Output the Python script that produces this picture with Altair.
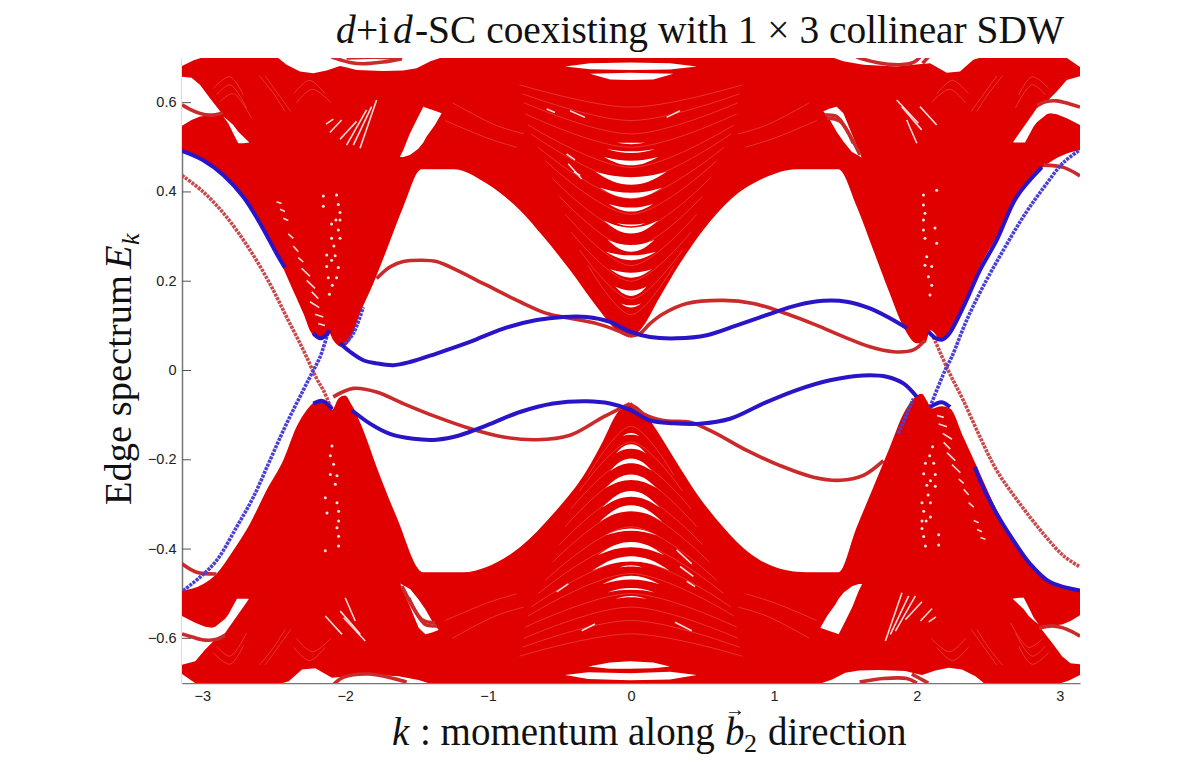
import altair as alt
import pandas as pd

W, H = 898, 625
PI = 3.1416
BULK = "#e00000"
XS = alt.Scale(domain=[-PI, PI], nice=False, zero=False)
YS = alt.Scale(domain=[-0.7, 0.7], nice=False, zero=False)

x_ticks = [-3, -2, -1, 0, 1, 2, 3]
y_ticks = [-0.6, -0.4, -0.2, 0, 0.2, 0.4, 0.6]

# --- bulk envelope bordering the gap, upper band ---
up_k = [-3.1416,-2.99,-2.853,-2.713,-2.596,-2.48,-2.386,-2.293,-2.234,-2.176,-2.118,-2.083,-2.024,-1.966,-1.896,-1.803,-1.71,-1.593,-1.465,-1.243,-1.01,-.777,-.614,-.427,-.24,-.1,-.007,.063,.203,.343,.506,.693,.93,1.16,1.45,1.58,1.695,1.81,1.906,2.0,2.057,2.095,2.175,2.23,2.325,2.44,2.56,2.70,2.885,3.025,3.1416]
up_E = [.492,.471,.438,.389,.330,.262,.195,.128,.083,.072,.087,.068,.053,.068,.128,.195,.27,.367,.451,.451,.419,.359,.30,.225,.143,.09,.075,.09,.165,.24,.315,.382,.431,.451,.451,.367,.27,.173,.098,.061,.061,.09,.068,.083,.142,.232,.30,.389,.456,.483,.494]
# --- lower band ---
lo_k = [-3.1416,-2.993,-2.9,-2.783,-2.666,-2.55,-2.433,-2.34,-2.27,-2.2,-2.13,-2.09,-2.048,-2.001,-1.953,-1.873,-1.78,-1.64,-1.453,-1.173,-1.01,-.777,-.544,-.31,-.193,-.1,-.007,.086,.18,.296,.46,.646,.833,1.043,1.23,1.451,1.579,1.696,1.812,1.906,1.976,2.034,2.069,2.104,2.174,2.232,2.325,2.442,2.559,2.676,2.792,2.932,3.1416]
lo_E = [-.493,-.478,-.455,-.403,-.343,-.268,-.201,-.126,-.089,-.07,-.074,-.088,-.063,-.056,-.078,-.134,-.216,-.328,-.452,-.452,-.44,-.396,-.321,-.224,-.156,-.097,-.074,-.093,-.134,-.194,-.276,-.351,-.41,-.444,-.452,-.452,-.351,-.261,-.171,-.097,-.063,-.052,-.067,-.085,-.08,-.085,-.149,-.231,-.313,-.381,-.433,-.474,-.493]

# --- white openings inside the bands: (k, upper E, lower E) ---
gaps = [
 ([-3.1416,-3.06,-2.98],[.71,.71,.71],[.682,.695,.703]),
 ([-3.1416,-3.075,-3.016,-2.946,-2.864],[.658,.656,.64,.61,.576],[.548,.561,.569,.572,.575]),
 ([-2.853,-2.818,-2.783,-2.748,-2.713,-2.67],[.569,.56,.55,.535,.524,.511],[.569,.554,.531,.509,.509,.511]),
 ([-2.48,-2.41,-2.316,-2.223,-2.13,-2.036,-1.98,-1.92,-1.735,-1.595,-1.5,-1.407,-1.337],[.71]*13,[.703,.685,.67,.666,.672,.682,.678,.673,.671,.672,.677,.692,.70]),
 ([-1.617,-1.593,-1.547,-1.488,-1.453,-1.43,-1.372,-1.325],[.478,.494,.531,.569,.591,.588,.582,.576],[.478,.478,.483,.497,.511,.524,.55,.576]),
 ([-.462,-.287,-.007,.273,.46],[.681,.688,.69,.688,.681],[.681,.675,.673,.674,.681]),
 ([-.287,-.147,-.007,.156,.296],[.665,.666,.667,.666,.665],[.665,.652,.651,.652,.665]),
 ([1.346,1.392,1.439,1.486,1.544,1.614],[.581,.587,.591,.576,.531,.477],[.581,.561,.535,.513,.49,.477]),
 ([1.392,1.486,1.626,1.859,1.976,2.092,2.209,2.302,2.395,2.465],[.71]*10,[.703,.693,.685,.681,.685,.688,.667,.670,.696,.703]),
 ([2.676,2.757,2.816,2.84,2.909,2.932,2.979,3.049,3.1416],[.513,.55,.577,.588,.602,.61,.625,.651,.659],[.511,.511,.546,.556,.574,.576,.574,.565,.55]),
 ([3.05,3.1416],[.71,.71],[.70,.68]),
 # lower half
 ([-3.1416,-3.05],[-.68,-.70],[-.71,-.71]),
 ([-3.1416,-3.049,-2.979,-2.932,-2.909,-2.84,-2.816,-2.757,-2.676],[-.55,-.565,-.574,-.576,-.574,-.556,-.546,-.511,-.511],[-.659,-.651,-.625,-.61,-.602,-.588,-.577,-.55,-.513]),
 ([-2.465,-2.395,-2.302,-2.209,-2.092,-1.976,-1.859,-1.626,-1.486,-1.392],[-.703,-.696,-.67,-.667,-.688,-.685,-.681,-.685,-.693,-.703],[-.71]*10),
 ([-1.614,-1.544,-1.486,-1.439,-1.392,-1.346],[-.477,-.49,-.513,-.535,-.561,-.581],[-.477,-.531,-.576,-.591,-.587,-.581]),
 ([-.298,-.147,-.007,.156,.273],[-.663,-.654,-.651,-.654,-.663],[-.663,-.668,-.668,-.667,-.663]),
 ([-.462,-.3,-.007,.273,.46],[-.682,-.676,-.678,-.675,-.682],[-.682,-.691,-.694,-.692,-.682]),
 ([1.325,1.372,1.43,1.453,1.488,1.547,1.593,1.617],[-.576,-.55,-.524,-.511,-.497,-.483,-.478,-.478],[-.576,-.582,-.588,-.591,-.569,-.531,-.494,-.478]),
 ([1.337,1.407,1.5,1.595,1.735,1.92,1.98,2.036,2.13,2.223,2.316,2.41,2.48],[-.70,-.692,-.677,-.672,-.671,-.673,-.678,-.682,-.672,-.666,-.67,-.685,-.703],[-.71]*13),
 ([2.67,2.713,2.748,2.783,2.818,2.853],[-.511,-.509,-.509,-.531,-.554,-.569],[-.511,-.524,-.535,-.55,-.56,-.569]),
 ([2.864,2.946,3.016,3.075,3.1416],[-.575,-.572,-.569,-.561,-.548],[-.576,-.61,-.64,-.656,-.658]),
 ([2.98,3.06,3.1416],[-.71,-.71,-.71],[-.703,-.695,-.682]),
]

# --- crescent openings around k = 0: half width, E at tips, E at mid top, E at mid bottom ---
crescents = [
 (.07,.150,.146,.141),(.11,.188,.179,.167),(.145,.227,.219,.208),(.175,.266,.258,.247),
 (.165,.293,.281,.266),(.10,.330,.327,.323),(.19,.336,.32,.307),(.155,.373,.365,.356),
 (.22,.41,.398,.386),(.25,.445,.433,.416),(.19,.478,.47,.46),(.17,.496,.491,.487),(.10,.511,.510,.507),
 (.058,-.147,-.144,-.140),(.105,-.186,-.175,-.165),(.146,-.225,-.208,-.197),(.178,-.263,-.245,-.233),
 (.2,-.307,-.283,-.27),(.22,-.339,-.315,-.302),(.18,-.369,-.359,-.354),(.233,-.414,-.396,-.384),
 (.268,-.448,-.428,-.416),(.08,-.441,-.439,-.436),(.2,-.479,-.468,-.46),(.165,-.497,-.491,-.487),(.11,-.512,-.508,-.505),
]

# --- small white streaks: k1, E1, k2, E2 ---
streaks = [
 (-2.48,.378,-2.445,.374),(-2.456,.361,-2.421,.356),(-2.433,.341,-2.398,.336),(-2.398,.306,-2.363,.296),
 (-2.363,.279,-2.328,.266),(-2.328,.253,-2.293,.243),(-2.305,.229,-2.246,.211),(-2.269,.202,-2.211,.184),
 (-2.234,.176,-2.188,.161),(-2.246,.154,-2.181,.141),(-2.211,.126,-2.153,.120),(-2.188,.105,-2.141,.101),
 (2.48,-.378,2.445,-.374),(2.456,-.361,2.421,-.356),(2.433,-.341,2.398,-.336),(2.398,-.306,2.363,-.296),
 (2.363,-.279,2.328,-.266),(2.328,-.253,2.293,-.243),(2.305,-.229,2.246,-.211),(2.269,-.202,2.211,-.184),
 (2.234,-.176,2.188,-.161),(2.246,-.154,2.181,-.141),(2.211,-.126,2.153,-.120),(2.188,-.105,2.141,-.101),
 (-2.134,.552,-2.083,.563),(-2.107,.533,-2.025,.561),(-2.036,.518,-1.92,.558),(-1.99,.505,-1.85,.584),(-1.943,.505,-1.815,.591),(-1.896,.498,-1.78,.606),
 (2.134,-.552,2.083,-.563),(2.107,-.533,2.025,-.561),(2.036,-.518,1.92,-.558),(1.99,-.505,1.85,-.584),(1.943,-.505,1.815,-.591),(1.896,-.498,1.78,-.606),
 (1.859,.606,2.011,.554),(1.894,.591,2.034,.539),(1.929,.561,2.0,.509),(2.022,.591,2.139,.55),
 (-1.859,-.606,-2.011,-.554),(-1.894,-.591,-2.034,-.539),(-1.929,-.561,-2.0,-.509),(-2.022,-.591,-2.139,-.55),
 # short streaks beside the crescents, above and below the gap
 (-.427,.582,-.322,.567),(.249,.567,.343,.582),(-.439,.463,-.345,.429),(-.451,.485,-.392,.472),(-.59,.586,-.532,.578),(-.40,.445,-.355,.437),
 (.319,-.402,.425,-.433),(.343,-.439,.436,-.461),(.39,-.472,.448,-.484),(.308,-.564,.425,-.583),(-.345,-.583,-.252,-.568),(-.52,-.496,-.439,-.478),
]

# --- faint arcs of the band texture around k = 0: half width, E at ends, E at middle ---
faint_arcs = [
 (.30,.235,.125),(.36,.27,.16),(.42,.31,.20),(.46,.35,.235),(.50,.39,.275),(.55,.43,.31),(.60,.47,.35),(.65,.50,.385),(.70,.53,.425),(.72,.55,.455),(.74,.575,.50),(.75,.60,.53),(.76,.62,.56),(.78,.64,.59),
 (.30,-.235,-.125),(.36,-.27,-.16),(.42,-.31,-.20),(.46,-.35,-.235),(.50,-.39,-.275),(.55,-.43,-.31),(.60,-.47,-.35),(.65,-.50,-.385),(.70,-.53,-.425),(.72,-.55,-.455),(.74,-.575,-.50),(.75,-.60,-.53),(.76,-.62,-.56),(.78,-.64,-.59),
]
# --- faint hatching in the corners of the bands ---
hatch = [
 ([-2.923,-2.806,-2.713],[.632,.658,.617]),([-2.9,-2.806,-2.69],[.617,.64,.588]),([-2.877,-2.783,-2.655],[.602,.62,.565]),
 ([-2.6,-2.5,-2.42],[.66,.62,.58]),([-2.56,-2.47,-2.38],[.66,.62,.58]),([-2.36,-2.25,-2.14],[.62,.65,.62]),([-2.34,-2.23,-2.1],[.60,.63,.60]),
 ([2.713,2.806,2.923],[.617,.658,.632]),([2.69,2.806,2.9],[.588,.64,.617]),([2.42,2.5,2.6],[.58,.62,.66]),([2.38,2.47,2.56],[.58,.62,.66]),([2.14,2.25,2.36],[.62,.65,.62]),([2.1,2.23,2.34],[.60,.63,.60]),
 ([-2.923,-2.806,-2.713],[-.632,-.658,-.617]),([-2.9,-2.806,-2.69],[-.617,-.64,-.588]),([-2.6,-2.5,-2.42],[-.66,-.62,-.58]),([-2.56,-2.47,-2.38],[-.66,-.62,-.58]),([-2.36,-2.25,-2.14],[-.62,-.65,-.62]),([-2.34,-2.23,-2.1],[-.60,-.63,-.60]),
 ([2.713,2.806,2.923],[-.617,-.658,-.632]),([2.69,2.806,2.9],[-.588,-.64,-.617]),([2.655,2.783,2.877],[-.565,-.62,-.602]),([2.42,2.5,2.6],[-.58,-.62,-.66]),([2.38,2.47,2.56],[-.58,-.62,-.66]),([2.14,2.25,2.36],[-.62,-.65,-.62]),([2.1,2.23,2.34],[-.60,-.63,-.60]),
 ([-1.3,-1.0,-.8],[.56,.52,.50]),([-1.25,-.95,-.75],[.60,.55,.53]),([.8,1.0,1.3],[.50,.52,.56]),([.75,.95,1.25],[.53,.55,.60]),
 ([.8,1.0,1.3],[-.50,-.52,-.56]),([.75,.95,1.25],[-.53,-.55,-.60]),([-1.3,-1.0,-.8],[-.56,-.52,-.50]),([-1.25,-.95,-.75],[-.60,-.55,-.53]),
]

# --- white dots near k = +/-2.1 ---
dots_k = [-2.153,-2.06,-2.153,-2.048,-2.036,-2.065,-2.036,-2.095,-2.048,-2.095,-2.036,-2.079,-2.129,-2.07,-2.095,-2.129,-2.048,-2.118,-2.06,-2.09,-2.11,
          2.153,2.06,2.153,2.048,2.036,2.065,2.036,2.095,2.048,2.095,2.036,2.079,2.129,2.07,2.095,2.129,2.048,2.118,2.06,2.09,2.11,
          2.046,2.139,2.046,2.057,2.046,2.046,2.127,2.057,2.139,2.069,2.057,2.104,2.081,2.104,2.092,
          -2.046,-2.139,-2.046,-2.057,-2.046,-2.046,-2.127,-2.057,-2.139,-2.069,-2.057,-2.104,-2.081,-2.104,-2.092]
dots_E = [.391,.393,.368,.372,.354,.337,.337,.328,.315,.296,.296,.279,.259,.257,.247,.233,.231,.208,.208,.191,.171,
          -.391,-.393,-.368,-.372,-.354,-.337,-.337,-.328,-.315,-.296,-.296,-.279,-.259,-.257,-.247,-.233,-.231,-.208,-.208,-.191,-.171,
          .393,.404,.371,.352,.337,.315,.319,.296,.285,.255,.236,.233,.21,.191,.169,
          -.393,-.404,-.371,-.352,-.337,-.315,-.319,-.296,-.285,-.255,-.236,-.233,-.21,-.191,-.169]

# --- edge states: thick, smooth branches ---
red_lines = [
 ([-1.78,-1.687,-1.593,-1.465,-1.361,-1.22,-1.01,-.777,-.59,-.427,-.24,-.1,-.007],[.206,.232,.244,.247,.244,.225,.191,.154,.128,.117,.105,.09,.077]),
 ([-.007,.063,.133,.226,.39,.646,.856,1.089,1.3,1.486,1.672,1.836,1.976,2.057],[.077,.083,.105,.127,.15,.157,.15,.127,.101,.076,.053,.042,.046,.068]),
 ([-2.083,-1.943,-1.78,-1.593,-1.361,-1.127,-.893,-.66,-.427,-.193,-.007],[-.059,-.04,-.048,-.074,-.104,-.13,-.149,-.155,-.145,-.104,-.074]),
 ([-.007,.086,.226,.413,.576,.81,1.043,1.276,1.463,1.626,1.766],[-.074,-.097,-.112,-.116,-.138,-.179,-.213,-.239,-.246,-.235,-.202]),
 ([-3.1416,-3.085,-3.016,-2.946,-2.855],[.595,.585,.576,.572,.577]),
 ([2.84,2.9,2.98,3.07,3.1416],[.594,.602,.604,.597,.59]),
 ([-3.1416,-3.07,-2.98,-2.9,-2.84],[-.59,-.597,-.604,-.602,-.594]),
 ([2.855,2.946,3.016,3.085,3.1416],[-.577,-.572,-.576,-.585,-.595]),
 ([-2.095,-2.036,-1.966,-1.875,-1.735,-1.605],[.702,.696,.69,.687,.691,.698]),
 ([-1.99,-1.8,-1.6],[.70,.702,.70]),
 ([1.579,1.719,1.882,1.976,2.022],[.702,.69,.685,.69,.702]),
 ([2.04,2.08],[.688,.702]),
 ([-2.08,-2.01,-1.826,-1.57],[-.703,-.687,-.68,-.698]),
 ([1.6,1.766,1.93,2.0],[-.698,-.69,-.69,-.70]),
 ([1.965,2.022,2.08],[-.68,-.69,-.70]),
 ([1.358,1.439,1.509,1.603],[.572,.569,.539,.483]),
 ([1.37,1.463,1.556],[.565,.558,.509]),
 ([-1.603,-1.509,-1.439,-1.358],[-.483,-.539,-.569,-.572]),
 ([-1.556,-1.463,-1.37],[-.509,-.558,-.565]),
 ([2.886,3.026,3.1416],[.46,.455,.436]),
 ([-3.1416,-3.04,-2.9],[-.433,-.452,-.456]),
]
blue_lines = [
 ([-2.036,-1.966,-1.873,-1.78,-1.663,-1.547,-1.361,-1.127,-.893,-.66,-.474,-.31,-.147,-.007,.133,.32,.53,.74,.973,1.159,1.346,1.509,1.672,1.812,1.929],
  [.061,.042,.023,.016,.012,.019,.038,.064,.094,.113,.12,.12,.109,.087,.075,.072,.079,.101,.127,.146,.156,.154,.139,.117,.095]),
 ([-1.953,-1.826,-1.687,-1.523,-1.361,-1.197,-1.01,-.777,-.544,-.31,-.147,-.007,.133,.296,.483,.693,.926,1.159,1.392,1.626,1.789,1.906,1.999],
  [-.089,-.119,-.142,-.153,-.155,-.145,-.123,-.093,-.074,-.069,-.074,-.088,-.112,-.118,-.119,-.108,-.074,-.044,-.022,-.011,-.014,-.029,-.059]),
 ([-3.1416,-2.993,-2.853,-2.713,-2.596,-2.48,-2.421],[.492,.471,.438,.389,.33,.262,.23]),
 ([-2.223,-2.176,-2.134,-2.111],[.083,.072,.079,.09]),
 ([2.081,2.127,2.174,2.22,2.325,2.442,2.559,2.699,2.874],[.087,.0735,.069,.0795,.142,.225,.292,.389,.455]),
 ([-2.223,-2.164,-2.129,-2.09],[-.074,-.068,-.074,-.087]),
 ([2.092,2.174,2.232],[-.082,-.071,-.082]),
 ([2.407,2.442,2.559,2.676,2.792,2.932,3.1416],[-.216,-.246,-.321,-.381,-.433,-.474,-.493]),
]
# --- edge states drawn with sparser open circles ---
blue_thin = [
 ([-3.133,-3.016,-2.9,-2.76,-2.643,-2.526,-2.41,-2.293,-2.223,-2.176,-2.118],[-.493,-.463,-.426,-.351,-.284,-.201,-.119,-.044,0,.03,.087]),
 ([-2.0,-1.943,-1.873],[.06,.083,.142]),
 ([2.092,2.197,2.244,2.349,2.465,2.606,2.746,2.886,3.026,3.1416],[-.082,0,.03,.113,.189,.27,.345,.409,.466,.494]),
 ([1.87,1.976],[-.141,-.063]),
]
red_thin = [
 ([-3.1416,-2.993,-2.83,-2.666,-2.526,-2.41,-2.293,-2.2,-2.153,-2.095],[.437,.40,.344,.27,.194,.12,.046,-.018,-.044,-.086]),
 ([2.116,2.22,2.325,2.442,2.559,2.722,2.886,3.026,3.1416],[.075,0,-.067,-.149,-.224,-.299,-.366,-.415,-.44]),
]


def tbl(series):
    rows = []
    for i, s in enumerate(series):
        for k, e in zip(s[0], s[1]):
            rows.append({"k": k, "E": e, "id": i})
    return pd.DataFrame(rows)


def area_tbl(series):
    rows = []
    for i, (ks, hi, lo) in enumerate(series):
        for k, h, l in zip(ks, hi, lo):
            rows.append({"k": k, "hi": h, "lo": l, "id": i})
    return pd.DataFrame(rows)


def crescent_tbl():
    rows = []
    for i, (w, tip, a, b) in enumerate(crescents):
        for f in (-1, -.5, 0, .5, 1):
            q = f * f
            rows.append({"k": f * w, "hi": max(a, b) + q * (tip - max(a, b)), "lo": min(a, b) + q * (tip - min(a, b)), "id": i})
    return pd.DataFrame(rows)


x_axis = alt.Axis(values=x_ticks, format="d", grid=False, tickSize=0, domainColor="#777777", domainWidth=1.5, title=None,
                  labelFont="Liberation Sans", labelFontSize=14.5, labelColor="#222222", labelPadding=6)
y_axis = alt.Axis(values=y_ticks, format=".1~f", grid=False, tickSize=0, domainColor="#777777", domainWidth=1.5, title=None,
                  labelFont="Liberation Sans", labelFontSize=14.5, labelColor="#222222", labelPadding=6)
X = alt.X("k:Q", scale=XS, axis=x_axis)
Y = alt.Y("E:Q", scale=YS, axis=y_axis)
Yh = alt.Y("hi:Q", scale=YS, axis=y_axis)

axis_x = alt.Chart(pd.DataFrame({"k": x_ticks})).mark_rule(color="#555555", strokeWidth=1).encode(
    x=X, y=alt.value(H), y2=alt.value(H - 9))
axis_y = alt.Chart(pd.DataFrame({"E": y_ticks})).mark_rule(color="#555555", strokeWidth=1).encode(
    y=Y, x=alt.value(0), x2=alt.value(9))

bulk_up = pd.DataFrame({"k": up_k, "lo": up_E, "hi": [.71] * len(up_k)})
bulk_lo = pd.DataFrame({"k": lo_k, "hi": lo_E, "lo": [-.71] * len(lo_k)})


def bulk(df):
    return alt.Chart(df).mark_area(color=BULK, clip=True, interpolate="monotone").encode(x=X, y=Yh, y2="lo:Q")


gap_layer = alt.Chart(area_tbl(gaps)).mark_area(color="white", clip=True).encode(x=X, y=Yh, y2="lo:Q", detail="id:N")
cres_layer = alt.Chart(crescent_tbl()).mark_area(color="white", interpolate="monotone", clip=True).encode(x=X, y=Yh, y2="lo:Q", detail="id:N")

st = [([a, c] if a < c else [c, a], [b, d] if a < c else [d, b]) for a, b, c, d in streaks]
streak_layer = alt.Chart(tbl(st)).mark_line(color="#ffffff", strokeWidth=1.6, opacity=.85, clip=True).encode(x=X, y=Y, detail="id:N")
dot_layer = alt.Chart(pd.DataFrame({"k": dots_k, "E": dots_E})).mark_point(filled=True, color="white", size=9, opacity=.9, clip=True).encode(x=X, y=Y)

fa = [([-w, 0, w], [t, m, t]) for w, t, m in faint_arcs]
faint_layer = alt.Chart(tbl(fa)).mark_line(color="white", strokeWidth=1, opacity=.2, interpolate="catmull-rom", clip=True).encode(x=X, y=Y, detail="id:N")
hatch_layer = alt.Chart(tbl(hatch)).mark_line(color="white", strokeWidth=1, opacity=.2, interpolate="catmull-rom", clip=True).encode(x=X, y=Y, detail="id:N")

red_layer = alt.Chart(tbl(red_lines)).mark_line(color="#cb2a2a", strokeWidth=3.6, interpolate="catmull-rom", clip=True).encode(x=X, y=Y, detail="id:N")
blue_layer = alt.Chart(tbl(blue_lines)).mark_line(color="#2a14c8", strokeWidth=4, interpolate="catmull-rom", clip=True).encode(x=X, y=Y, detail="id:N")
red_thin_layer = alt.Chart(tbl(red_thin)).mark_line(color="#c84a4a", strokeWidth=3.6, strokeDash=[3, 1], interpolate="catmull-rom", clip=True).encode(x=X, y=Y, detail="id:N")
blue_thin_layer = alt.Chart(tbl(blue_thin)).mark_line(color="#4a40d4", strokeWidth=3.6, strokeDash=[3, 1], interpolate="catmull-rom", clip=True).encode(x=X, y=Y, detail="id:N")


def txt(s, px, py, size=39, style="normal", align="left", angle=0):
    return alt.Chart(alt.Data(values=[{}])).mark_text(text=s, font="Liberation Serif", fontSize=size, fontStyle=style, align=align,
                                                       baseline="alphabetic", angle=angle, color="#111111").encode(
        x=alt.value(px - 182), y=alt.value(py - 58))


texts = [
    txt("d", 336, 43, 39.4, "italic"), txt("+i", 356, 43, 39.4), txt("d", 393, 43, 39.4, "italic"),
    txt("-SC coexisting with 1 × 3 collinear SDW", 415, 43, 39.4),
    txt("k", 392, 745, 39, "italic"), txt(": momentum along", 420, 745, 39),
    txt("b", 725, 745, 39, "italic"), txt("→", 735, 716, 20, align="center"), txt("2", 744, 752, 26),
    txt("direction", 768, 745, 39),
    txt("Edge spectrum", 131, 505, 38.5, angle=270), txt("E", 131, 269, 38.5, "italic", angle=270), txt("k", 139, 245, 26, "italic", angle=270),
]

chart = alt.layer(axis_x, bulk(bulk_up), bulk(bulk_lo), gap_layer, faint_layer, hatch_layer, cres_layer, streak_layer, dot_layer,
                  red_layer, red_thin_layer, blue_thin_layer, blue_layer, axis_y, *texts).properties(
    width=W, height=H, padding={"left": 174, "top": 50, "right": 10, "bottom": 85},
    autosize=alt.AutoSizeParams(type="none")).configure_view(stroke=None)
chart.save("out.html", embed_options={"renderer": "svg", "actions": False})
